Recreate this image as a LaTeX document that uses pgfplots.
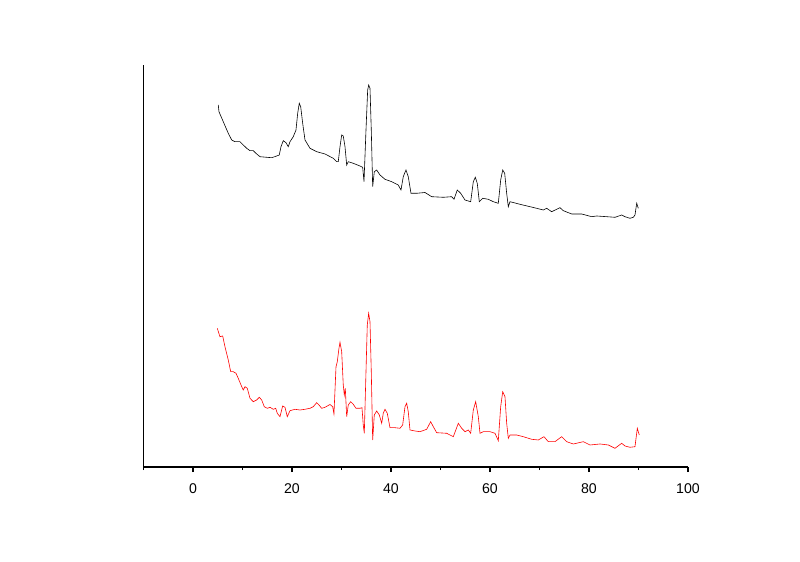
\documentclass[border=0pt]{standalone}
\usepackage{pgfplots}
\pgfplotsset{compat=1.18}
\usepackage{fontspec}
\setmainfont{Liberation Sans}

\begin{document}
\begin{tikzpicture}
\begin{axis}[
    scale only axis,
    width=408.4pt,
    height=301.5pt,
    xmin=-10, xmax=100,
    ymin=0, ymax=402,
    axis x line=bottom,
    axis y line=left,
    axis line style={-, line width=0.8pt},
    xtick={0,20,40,60,80,100},
    minor xtick={-10,10,30,50,70,90},
    ytick=\empty,
    tick align=outside,
    major tick length=3.8pt,
    minor tick length=2.4pt,
    every tick/.style={black, line width=0.8pt},
    xticklabel style={font=\fontsize{10.6}{12}\selectfont, yshift=-5.5pt},
    /pgf/number format/assume math mode=true,
    clip=false,
]
% black pattern (upper)
\addplot[black, line width=0.45pt] coordinates {
(5.11,362) (5.25,355.3) (6.12,345.3) (7.13,333.7) (7.82,327) (8.48,325.3)
(9.49,325.3) (10.16,322) (10.85,318.7) (11.52,316.3) (12.18,316.3) (12.87,313)
(13.54,310.3) (14.89,309.7) (15.90,309.3) (16.91,311) (17.43,312) (17.78,320.3)
(18.24,326.3) (18.79,324.3) (19.25,320.3) (19.60,325.3) (20.26,330.3) (20.81,337)
(21.15,353.7) (21.47,363.7) (21.76,360.3) (22.16,343.7) (22.63,327) (23.64,318.7)
(24.99,315.3) (26.67,313) (28.34,308.7) (29.03,305.3) (29.35,305.3) (29.70,320.3)
(30.04,332) (30.36,331) (30.71,320.3) (31.05,302) (31.37,305.3) (32.38,303.7)
(33.74,301) (34.28,299.7) (34.55,285.3) (34.95,337) (35.29,377) (35.49,382)
(35.76,378.7) (36.02,337) (36.30,280.3) (36.63,295.3) (37.11,297) (37.78,292)
(38.79,287.7) (40.14,285.3) (41.47,282) (42.02,277) (42.48,290.3) (43.03,297)
(43.49,290.3) (44.04,273.7) (45.19,273.7) (46.87,274.5) (48.22,270.3) (50.57,269.7)
(52.26,270.3) (52.73,267.7) (53.39,277) (54.08,273.7) (54.95,267) (56.10,265.3)
(56.63,285.3) (57.03,289.7) (57.43,283.7) (57.84,265.3) (58.53,268.7) (59.66,267.7)
(60.67,265.3) (61.68,263.7) (62.16,287) (62.57,297) (62.97,293.7) (63.37,273.7)
(63.70,260.3) (64.04,265.3) (66.06,262.7) (68.08,260.3) (69.43,258.7) (70.77,257)
(71.45,258.7) (72.46,255.3) (74.14,259.3) (74.81,256.3) (76.51,253) (78.53,253)
(80.55,250.3) (81.56,251) (83.58,250.3) (85.25,249.7) (86.61,252) (87.27,250.3)
(88.28,248.7) (88.95,249.7) (89.29,252) (89.64,263.7) (89.96,258.7)
};
% red pattern (lower)
\addplot[red, line width=0.45pt] coordinates {
(4.91,138.7) (5.45,130.3) (6.00,131) (6.46,120.3) (7.13,107) (7.62,95.3)
(8.14,95.3) (8.69,93.7) (9.15,88.7) (9.70,82) (10.16,77) (10.51,80.3)
(10.97,78.7) (11.52,68.7) (12.18,65.3) (12.87,67) (13.39,69.7) (13.88,67)
(14.40,60.3) (15.01,58.7) (15.56,59.7) (16.22,57.7) (16.71,58.7) (17.03,53.7)
(17.58,50.3) (18.12,61) (18.59,59.7) (19.05,50.3) (19.60,56.3) (20.61,57.7)
(21.62,57) (22.63,57.7) (23.64,58.7) (24.30,60.3) (24.99,64.3) (25.45,62)
(26.00,58.7) (26.67,59.7) (27.68,62.5) (28.22,60.3) (28.48,53) (28.89,100)
(29.15,105.3) (29.49,118.7) (29.70,124.7) (30.04,115.3) (30.36,82) (30.57,72)
(30.77,78.7) (31.05,50.3) (31.37,62) (31.86,65.3) (32.38,62.7) (32.93,58.7)
(33.74,58.7) (34.14,59.3) (34.40,42) (34.61,33.7) (34.95,95.3) (35.21,142)
(35.49,153.7) (35.76,145.3) (36.02,95.3) (36.30,27) (36.63,52) (37.11,56)
(37.64,52) (38.12,43.7) (38.44,53.7) (38.79,57.7) (39.25,53.7) (39.80,39.3)
(40.81,39.3) (41.82,38.7) (42.36,42) (42.83,60.3) (43.17,63.7) (43.49,55.3)
(43.84,37) (44.85,36) (45.86,35.3) (47.21,37.7) (48.02,45.3) (48.55,40.3)
(49.23,34.3) (51.25,33.7) (52.59,30.3) (53.60,43.7) (54.28,38.7) (54.95,35.3)
(55.62,37) (56.10,33.7) (56.63,57) (57.11,65.3) (57.64,50.3) (57.98,33.7)
(58.65,35.3) (60.00,35.3) (61.01,33.7) (61.68,26.3) (62.16,60.3) (62.57,75.3)
(63.03,70.3) (63.37,43.7) (63.70,28.7) (64.04,32) (65.39,32) (66.73,30.3)
(68.42,27.7) (69.76,27) (70.91,30.3) (71.78,25.3) (73.13,25.3) (74.48,30.3)
(75.49,25.3) (76.83,23) (78.85,25.3) (80.20,22) (82.22,23) (83.90,22)
(85.25,18.7) (86.61,23.7) (87.27,21) (88.28,19.7) (89.29,20.3) (89.76,38.7)
(90.16,32)
};
% page margins as in the reference
\path (rel axis cs:-0.2635,-0.2363) rectangle (rel axis cs:1.2057,1.1617);
\end{axis}
\end{tikzpicture}
\end{document}
